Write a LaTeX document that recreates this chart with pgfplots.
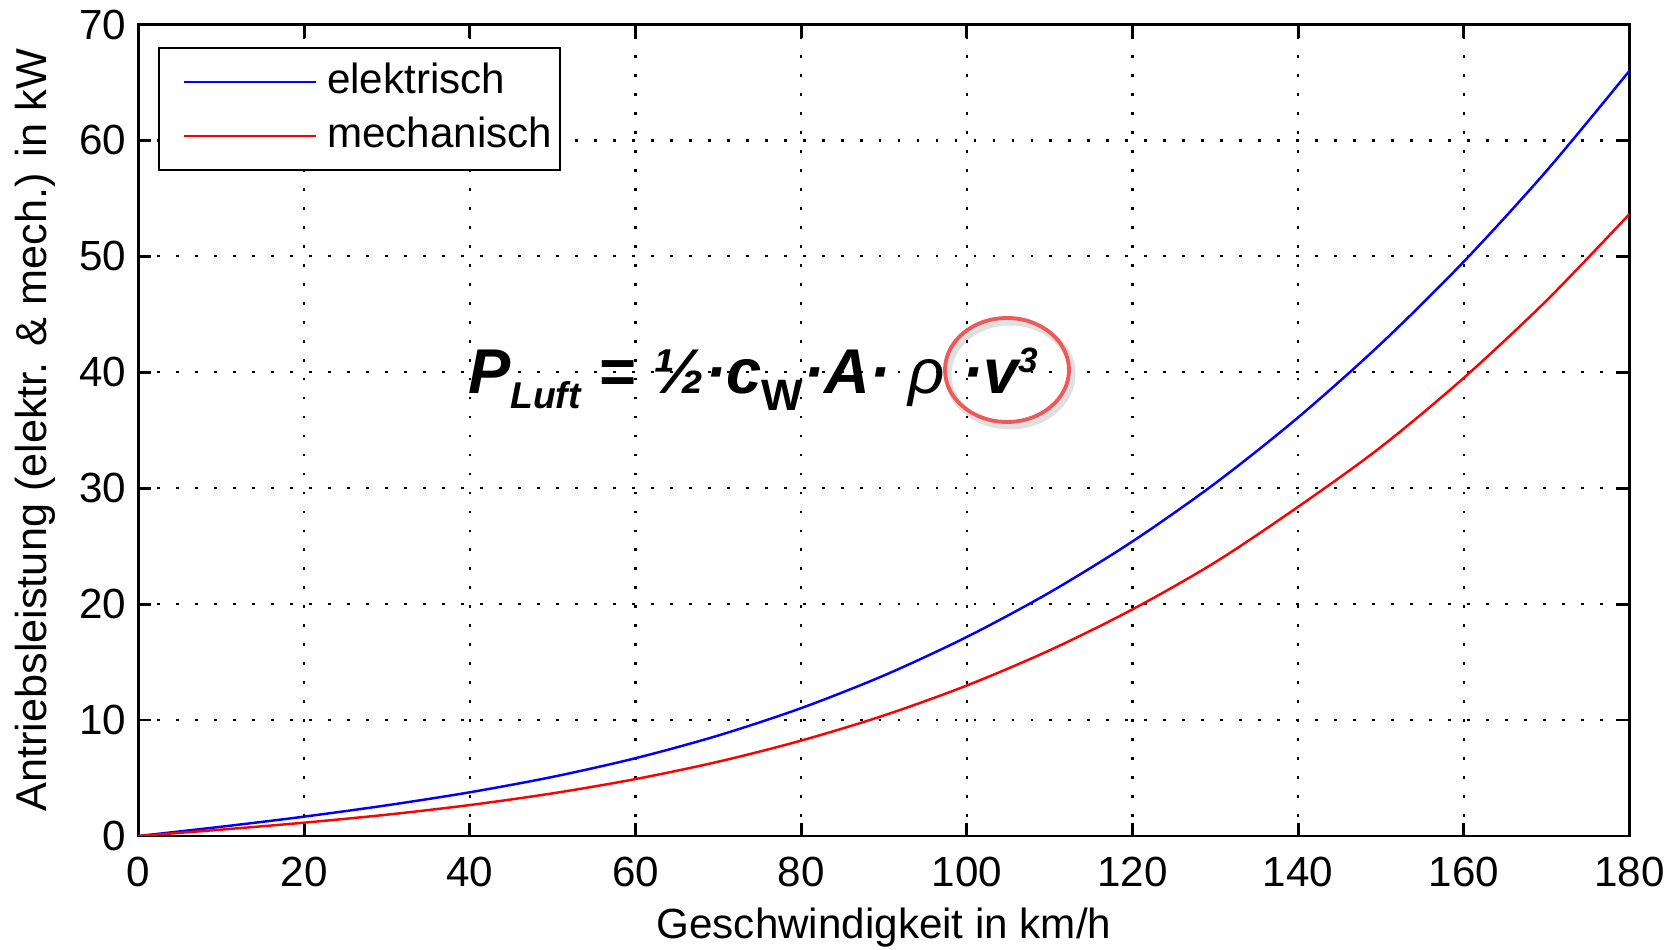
\documentclass[border=0pt]{standalone}
\usepackage{fontspec}
\setmainfont{Liberation Sans}
\usepackage{pgfplots}
\pgfplotsset{compat=1.18}
\definecolor{ringred}{HTML}{EE5A5A}

\begin{document}
\begin{tikzpicture}
\begin{axis}[
  name=ax, at={(0,0)}, anchor=south west,
  scale only axis, width=14.91cm, height=8.115cm,
  xmin=0, xmax=180, ymin=0, ymax=70,
  xtick={0,20,...,180}, ytick={0,10,...,70},
  tick align=inside, major tick length=0.13cm,
  every tick/.style={black, line width=0.8pt},
  axis line style={line width=0.8pt},
  grid=major,
  major grid style={black, line width=0.6pt, dash pattern=on 0.8pt off 4.6pt},
  tick label style={font=\fontsize{12}{14}\selectfont},
  label style={font=\fontsize{12}{14}\selectfont},
  ylabel style={font=\fontsize{12.3}{14}\selectfont},
  /pgf/number format/assume math mode=true,
  xticklabel style={yshift=-0.09cm},
  xlabel={Geschwindigkeit in km/h},
  ylabel={Antriebsleistung (elektr. \& mech.) in kW},
  xlabel style={at={(axis description cs:0.5,-0.1269)}, anchor=base},
  ylabel style={at={(axis description cs:-0.0614,0.5)}, anchor=base},
  legend style={at={(axis description cs:0,1)}, anchor=north west,
    xshift=0.195cm, yshift=-0.225cm, draw=black, line width=0.6pt, fill=white,
    inner xsep=0.035cm, inner ysep=0.07cm, row sep=0pt,
    font=\fontsize{12}{14}\selectfont,
    nodes={text height=0.32cm, text depth=0.1cm, inner ysep=0.06cm, inner xsep=0.04cm}},
  legend cell align=left,
  legend image code/.code={\path (0cm,0cm); \draw[#1] (0.2cm,0cm) -- (1.52cm,0cm); \path (1.58cm,0cm);},
]
% elektrisch
\addplot[blue, line width=0.7pt, smooth, no markers] coordinates {
(0,0) (10,0.80) (20,1.67) (30,2.65) (40,3.77) (50,5.10) (60,6.71) (70,8.67)
(80,11.03) (90,13.85) (100,17.17) (110,21.01) (120,25.41) (130,30.43)
(140,36.11) (150,42.47) (160,49.55) (170,57.39) (180,66.01)};
% mechanisch
\addplot[red, line width=0.7pt, smooth, no markers] coordinates {
(0,0) (10,0.55) (20,1.15) (30,1.84) (40,2.67) (50,3.68) (60,4.91) (70,6.41)
(80,8.23) (90,10.40) (100,12.98) (110,16.02) (120,19.55) (130,23.62)
(140,28.40) (150,33.56) (160,39.52) (170,46.20) (180,53.65)};
\legend{elektrisch, mechanisch}

\node[anchor=base west, inner sep=0pt, font=\fontsize{18}{20}\selectfont\bfseries\itshape]
  at (axis cs:39.7,38.2)
  {P\raisebox{-0.15cm}{\fontsize{10.6}{12}\selectfont Luft} = ½·c\raisebox{-0.17cm}{\fontsize{12.5}{14}\selectfont\upshape W}·A· {\mdseries ρ} ·v\raisebox{0.21cm}{\fontsize{10}{12}\selectfont 3}};
\draw[black, opacity=0.12, line width=2pt] ([xshift=0.03cm,yshift=-0.04cm]axis cs:104.85,40.2) ellipse [x radius=0.62cm, y radius=0.52cm];
\draw[ringred, line width=1.1pt] (axis cs:104.85,40.2) ellipse [x radius=0.62cm, y radius=0.52cm];
\end{axis}
\pgfresetboundingbox
\path[use as bounding box] (-1.385cm,-1.14cm) rectangle (15.315cm,8.36cm);
\end{tikzpicture}
\end{document}
